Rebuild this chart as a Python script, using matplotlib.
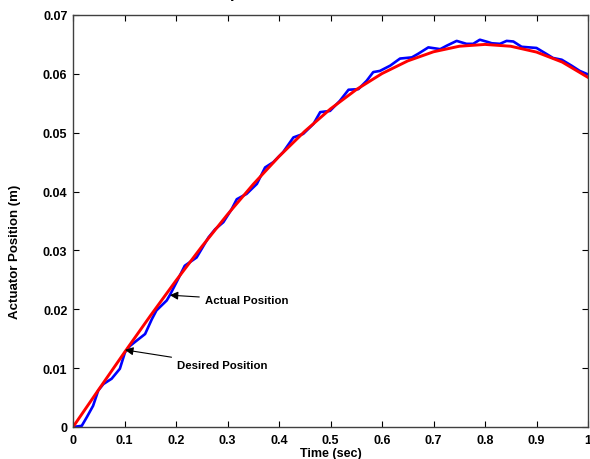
import matplotlib
matplotlib.use("Agg")
import matplotlib.pyplot as plt

plt.rcParams["font.family"] = ["Liberation Sans", "DejaVu Sans"]
plt.rcParams["font.weight"] = "bold"

# desired (reference) actuator position
desired_t = [0.0, 0.05, 0.10, 0.15, 0.20, 0.25, 0.30, 0.35, 0.40, 0.45, 0.50,
             0.55, 0.60, 0.65, 0.70, 0.75, 0.80, 0.85, 0.90, 0.95, 1.00]
desired_pos = [0.0, 0.00637, 0.01268, 0.01887, 0.02487, 0.03064, 0.03611,
               0.04124, 0.04596, 0.05024, 0.05405, 0.05732, 0.06005, 0.06220,
               0.06375, 0.06469, 0.06500, 0.06469, 0.06370, 0.06200, 0.05940]

# actual actuator position
actual_t = [0.0, 0.017, 0.027, 0.039, 0.049, 0.059, 0.075, 0.091, 0.101, 0.111,
            0.124, 0.140, 0.153, 0.162, 0.182, 0.188, 0.201, 0.217, 0.240, 0.263,
            0.276, 0.292, 0.308, 0.318, 0.337, 0.357, 0.373, 0.389, 0.408, 0.428,
            0.447, 0.467, 0.480, 0.499, 0.518, 0.535, 0.554, 0.570, 0.583, 0.596,
            0.616, 0.635, 0.658, 0.670, 0.690, 0.713, 0.726, 0.745, 0.764, 0.777,
            0.790, 0.806, 0.813, 0.829, 0.842, 0.855, 0.871, 0.900, 0.919, 0.932,
            0.949, 0.968, 0.984, 1.0]
actual_pos = [0.0, 0.0002, 0.0017, 0.0036, 0.0062, 0.0073, 0.0082, 0.0099, 0.0127, 0.0138,
              0.0147, 0.0158, 0.0183, 0.0198, 0.0215, 0.0224, 0.0246, 0.0274, 0.0288, 0.0322,
              0.0336, 0.0348, 0.0370, 0.0387, 0.0396, 0.0413, 0.0441, 0.0450, 0.0467, 0.0492,
              0.0498, 0.0515, 0.0535, 0.0537, 0.0554, 0.0573, 0.0574, 0.0588, 0.0603, 0.0605,
              0.0614, 0.0626, 0.0628, 0.0634, 0.0645, 0.0642, 0.0648, 0.0656, 0.0651, 0.0651,
              0.0658, 0.0654, 0.0652, 0.0651, 0.0656, 0.0655, 0.0646, 0.0644, 0.0634, 0.0627,
              0.0624, 0.0614, 0.0605, 0.0599]

x_ticks = [0, 0.1, 0.2, 0.3, 0.4, 0.5, 0.6, 0.7, 0.8, 0.9, 1]
x_labels = ["0", "0.1", "0.2", "0.3", "0.4", "0.5", "0.6", "0.7", "0.8", "0.9", "1"]
y_ticks = [0, 0.01, 0.02, 0.03, 0.04, 0.05, 0.06, 0.07]
y_labels = ["0", "0.01", "0.02", "0.03", "0.04", "0.05", "0.06", "0.07"]

fig = plt.figure(figsize=(5.9, 4.6), dpi=100)
ax = fig.add_axes([73 / 590, 32 / 460, 515 / 590, 412 / 460])

ax.plot(actual_t, actual_pos, color="#0000ff", lw=1.9)
ax.plot(desired_t, desired_pos, color="#ff0000", lw=2.1)

ax.set_xlim(0, 1)
ax.set_ylim(0, 0.07)
ax.set_xticks(x_ticks)
ax.set_xticklabels(x_labels)
ax.set_yticks(y_ticks)
ax.set_yticklabels(y_labels)
ax.tick_params(direction="in", top=True, right=True, length=4, width=0.8,
               labelsize=9)
ax.tick_params(axis="x", pad=5)
ax.tick_params(axis="y", pad=4)
for sp in ax.spines.values():
    sp.set_color("#404040")
    sp.set_linewidth(1.0)

ax.set_xlabel("Time (sec)", fontsize=9, fontweight="bold", labelpad=1)
ax.set_ylabel("Actuator Position (m)", fontsize=9.5, fontweight="bold")
ax.yaxis.set_label_coords(-52 / 515, 0.427)

arrow = dict(arrowstyle="-|>", color="black", lw=0.8, mutation_scale=12,
             shrinkA=2, shrinkB=0)
ax.annotate("Actual Position", xy=(0.188, 0.0224), xytext=(0.256, 0.0216),
            fontsize=8.2, fontweight="bold", va="center", ha="left",
            arrowprops=arrow)
ax.annotate("Desired Position", xy=(0.101, 0.0131), xytext=(0.202, 0.0105),
            fontsize=8.2, fontweight="bold", va="center", ha="left",
            arrowprops=arrow)

# title mostly cut off by the top edge of the image, as in the source
fig.text(307 / 590, 1 + 2 / 460, "parameter variation", ha="center",
         va="baseline", fontsize=12, fontweight="bold")

fig.savefig("out.png", dpi=100)
